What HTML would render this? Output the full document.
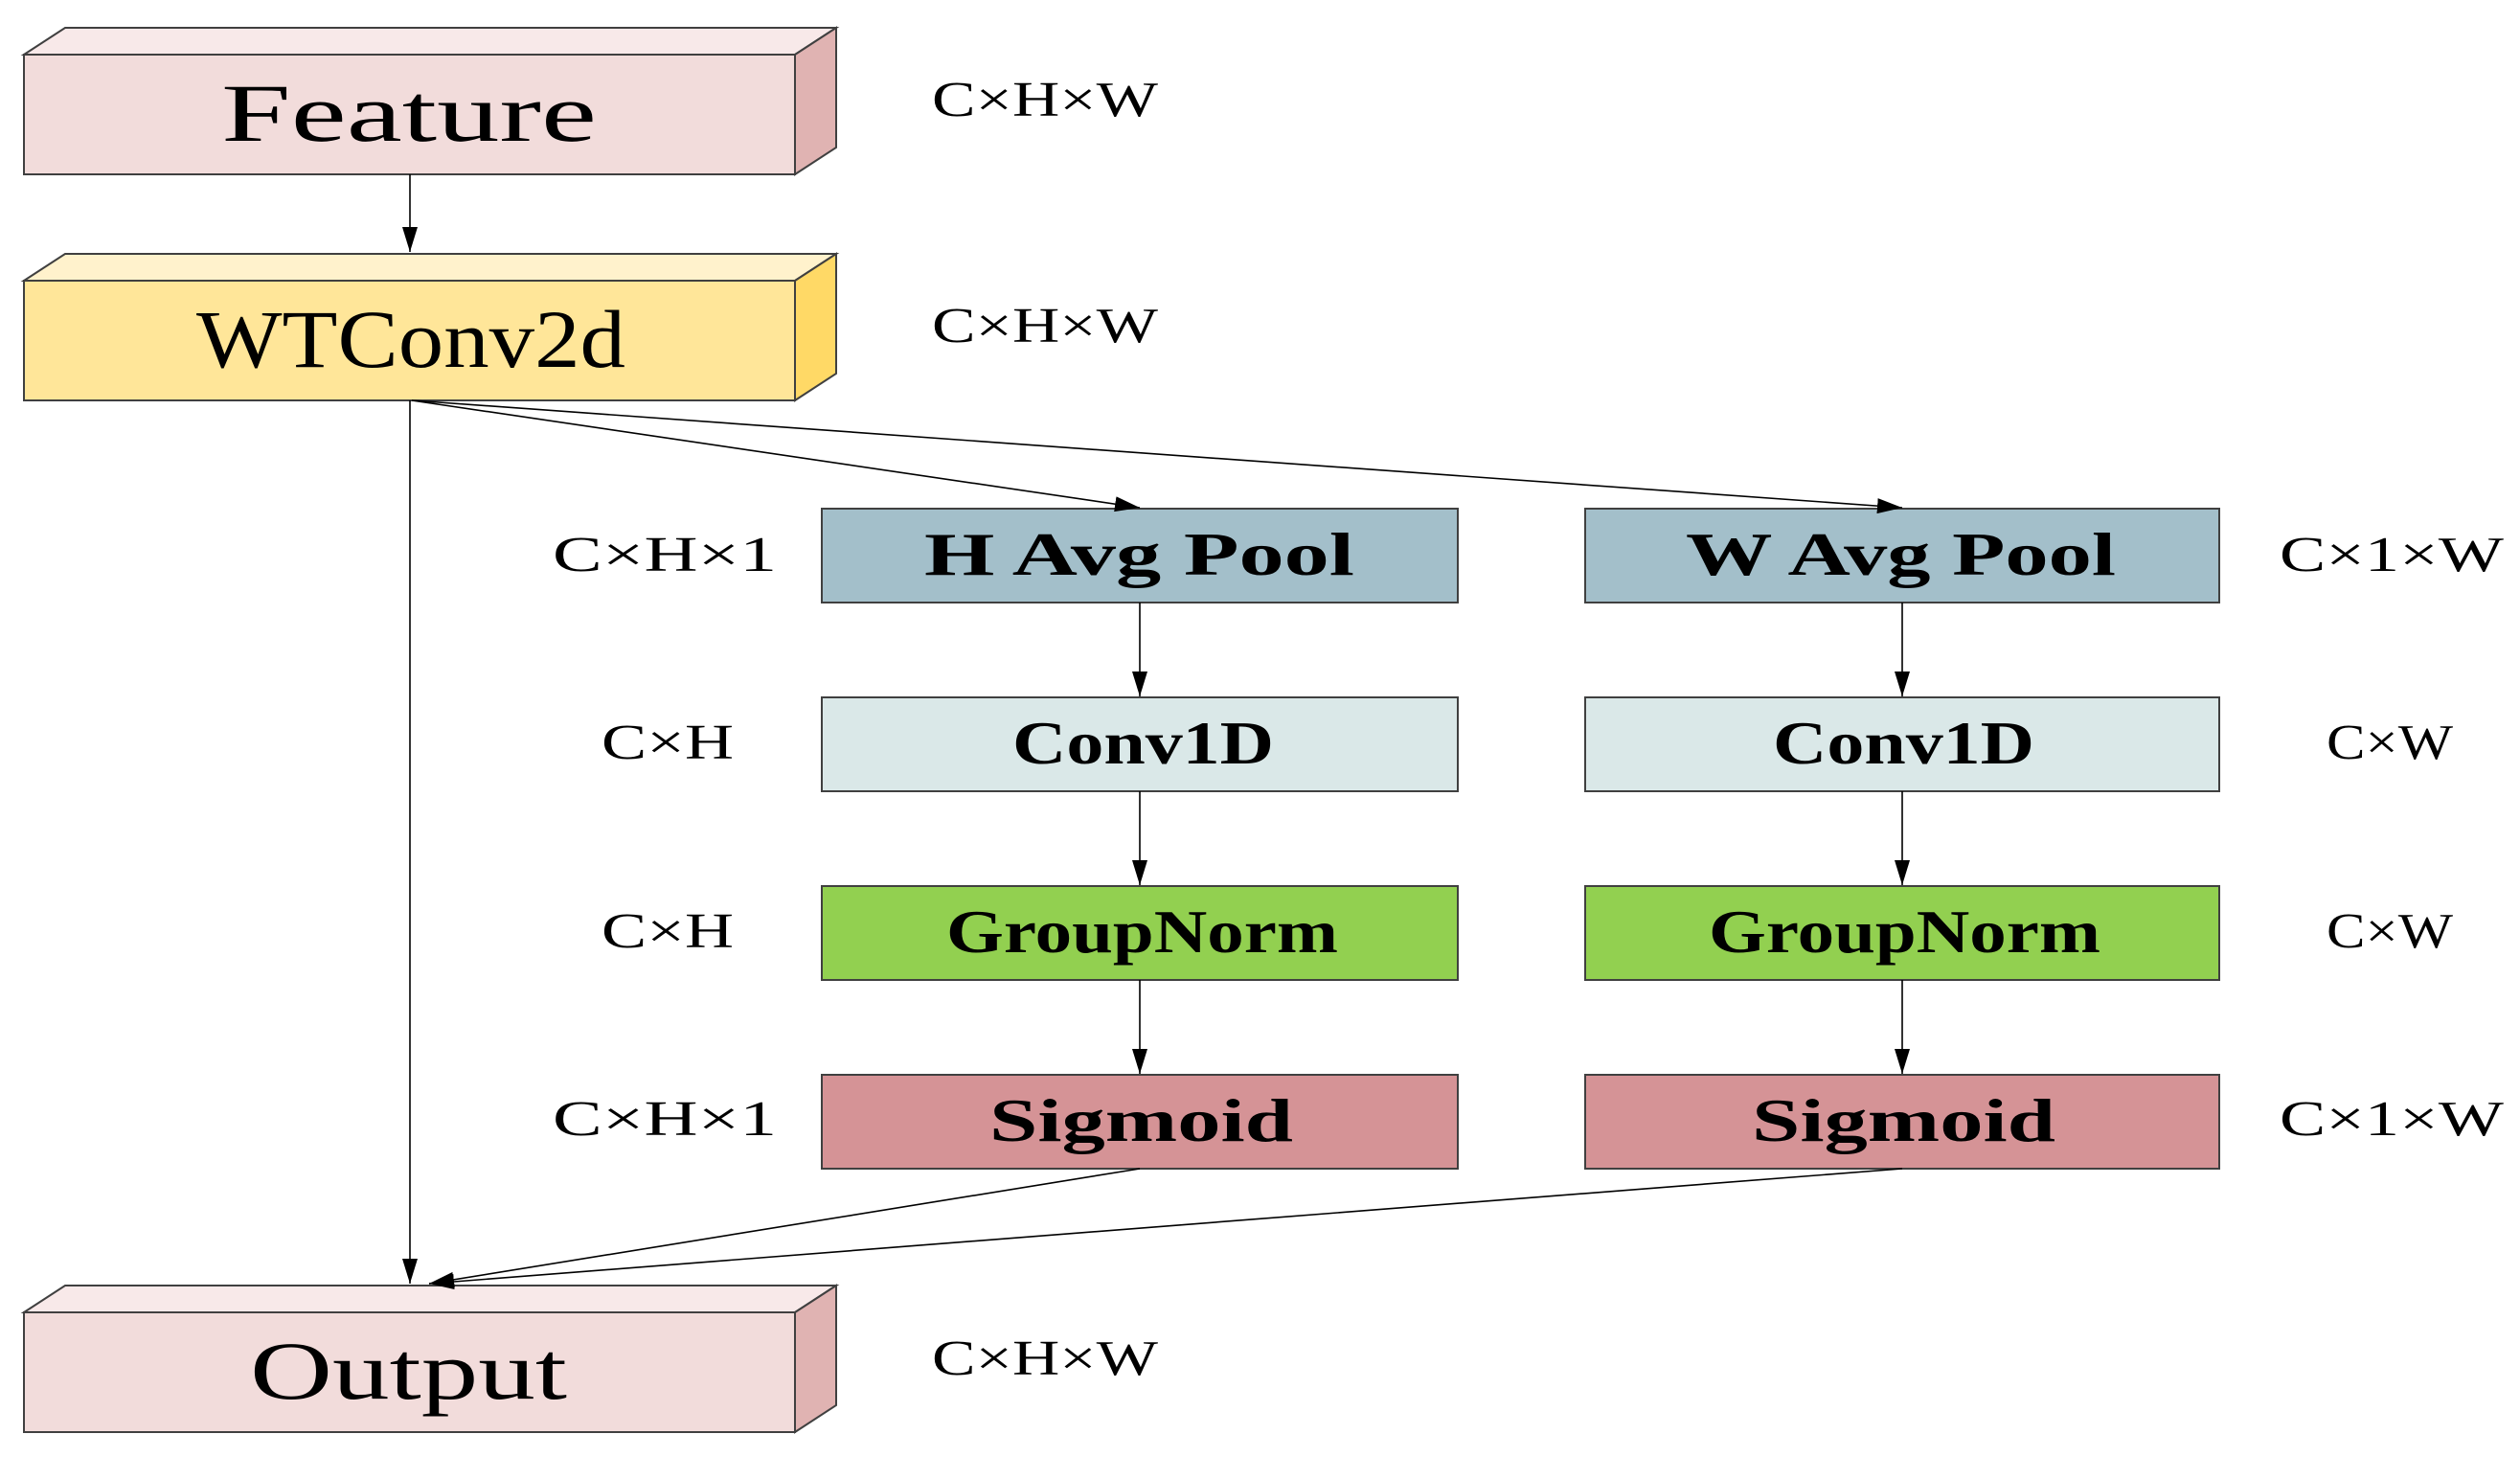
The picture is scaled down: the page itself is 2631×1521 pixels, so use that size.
<!DOCTYPE html>
<html><head><meta charset="utf-8"><style>html,body{margin:0;padding:0;background:#fff}</style></head>
<body>
<svg width="2631" height="1516" viewBox="0 0 2631 1516" xmlns="http://www.w3.org/2000/svg" font-family="'Liberation Serif', 'Noto Serif CJK SC', serif">
<defs>
<marker id="b" markerWidth="26" markerHeight="16" refX="26" refY="8" orient="auto" markerUnits="userSpaceOnUse">
<path d="M0,0 L26,8 L0,16 z" fill="#000"/></marker>
</defs>
<g stroke="#404040" stroke-width="2">
<polygon points="25,57 68,29 873,29 830,57" fill="#f8e9e9"/>
<polygon points="830,57 873,29 873,154 830,182" fill="#e0b3b2"/>
<rect x="25" y="57" width="805" height="125" fill="#f2dcdb"/>
<polygon points="25,293 68,265 873,265 830,293" fill="#fff2cc"/>
<polygon points="830,293 873,265 873,390 830,418" fill="#ffd966"/>
<rect x="25" y="293" width="805" height="125" fill="#ffe699"/>
<polygon points="25,1370 68,1342 873,1342 830,1370" fill="#f8e9e9"/>
<polygon points="830,1370 873,1342 873,1467 830,1495" fill="#e0b3b2"/>
<rect x="25" y="1370" width="805" height="125" fill="#f2dcdb"/>
<rect x="858" y="531" width="664" height="98" fill="#a3bfca"/>
<rect x="1655" y="531" width="662" height="98" fill="#a3bfca"/>
<rect x="858" y="728" width="664" height="98" fill="#dae8e8"/>
<rect x="1655" y="728" width="662" height="98" fill="#dae8e8"/>
<rect x="858" y="925" width="664" height="98" fill="#92d050"/>
<rect x="1655" y="925" width="662" height="98" fill="#92d050"/>
<rect x="858" y="1122" width="664" height="98" fill="#d59396"/>
<rect x="1655" y="1122" width="662" height="98" fill="#d59396"/>
</g>
<g stroke="#000" stroke-width="1.6" fill="none">
<line x1="428" y1="182" x2="428" y2="263" marker-end="url(#b)"/>
<line x1="428" y1="418" x2="428" y2="1340" marker-end="url(#b)"/>
<line x1="430" y1="418" x2="1190" y2="530" marker-end="url(#b)"/>
<line x1="430" y1="418" x2="1986" y2="530" marker-end="url(#b)"/>
<line x1="1190" y1="629" x2="1190" y2="727" marker-end="url(#b)"/>
<line x1="1190" y1="826" x2="1190" y2="924" marker-end="url(#b)"/>
<line x1="1190" y1="1023" x2="1190" y2="1121" marker-end="url(#b)"/>
<line x1="1986" y1="629" x2="1986" y2="727" marker-end="url(#b)"/>
<line x1="1986" y1="826" x2="1986" y2="924" marker-end="url(#b)"/>
<line x1="1986" y1="1023" x2="1986" y2="1121" marker-end="url(#b)"/>
<line x1="1190" y1="1220" x2="448" y2="1340" marker-end="url(#b)"/>
<line x1="1986" y1="1220" x2="448" y2="1340" marker-end="url(#b)"/>
</g>
<g fill="#000" font-size="86">
<text x="231" y="147" textLength="392" lengthAdjust="spacingAndGlyphs">Feature</text>
<text x="205" y="383" textLength="448" lengthAdjust="spacingAndGlyphs">WTConv2d</text>
<text x="261" y="1460" textLength="331" lengthAdjust="spacingAndGlyphs">Output</text>
</g>
<g fill="#000" font-size="64" font-weight="bold">
<text x="965" y="600" textLength="449" lengthAdjust="spacingAndGlyphs">H  Avg  Pool</text>
<text x="1760" y="600" textLength="449" lengthAdjust="spacingAndGlyphs">W  Avg  Pool</text>
<text x="1057" y="797" textLength="273" lengthAdjust="spacingAndGlyphs">Conv1D</text>
<text x="1851" y="797" textLength="273" lengthAdjust="spacingAndGlyphs">Conv1D</text>
<text x="988" y="994" textLength="409" lengthAdjust="spacingAndGlyphs">GroupNorm</text>
<text x="1784" y="994" textLength="409" lengthAdjust="spacingAndGlyphs">GroupNorm</text>
<text x="1033" y="1191" textLength="317" lengthAdjust="spacingAndGlyphs">Sigmoid</text>
<text x="1829" y="1191" textLength="317" lengthAdjust="spacingAndGlyphs">Sigmoid</text>
</g>
<g fill="#000" font-size="52">
<text x="973" y="121" textLength="236" lengthAdjust="spacingAndGlyphs">C×H×W</text>
<text x="973" y="357" textLength="236" lengthAdjust="spacingAndGlyphs">C×H×W</text>
<text x="973" y="1435" textLength="236" lengthAdjust="spacingAndGlyphs">C×H×W</text>
<text x="577" y="596" textLength="234" lengthAdjust="spacingAndGlyphs">C×H×1</text>
<text x="628" y="792" textLength="138" lengthAdjust="spacingAndGlyphs">C×H</text>
<text x="628" y="989" textLength="138" lengthAdjust="spacingAndGlyphs">C×H</text>
<text x="577" y="1185" textLength="234" lengthAdjust="spacingAndGlyphs">C×H×1</text>
<text x="2380" y="596" textLength="234" lengthAdjust="spacingAndGlyphs">C×1×W</text>
<text x="2429" y="792" textLength="132" lengthAdjust="spacingAndGlyphs">C×W</text>
<text x="2429" y="989" textLength="132" lengthAdjust="spacingAndGlyphs">C×W</text>
<text x="2380" y="1185" textLength="234" lengthAdjust="spacingAndGlyphs">C×1×W</text>
</g>
</svg>
</body></html>
